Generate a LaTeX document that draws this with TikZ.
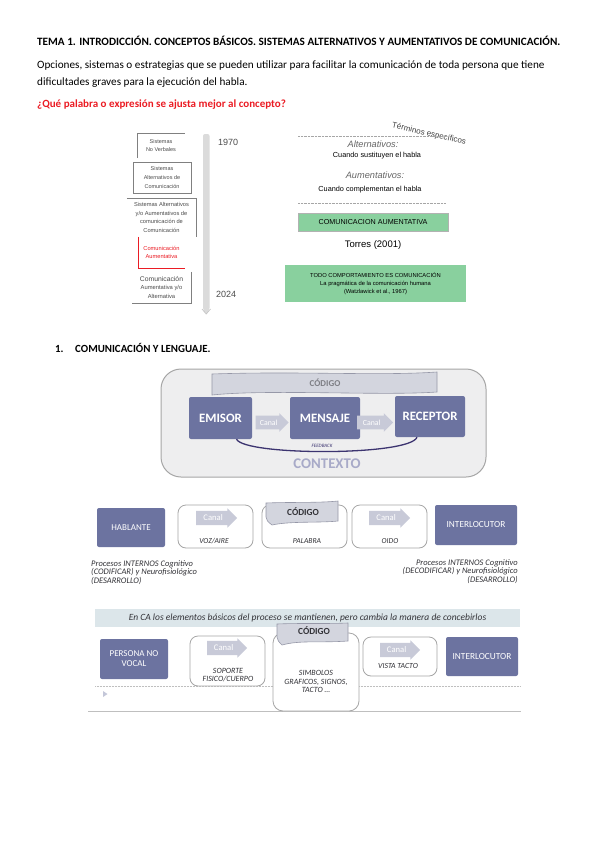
\documentclass[tikz,border=0pt]{standalone}
\usepackage{fontspec}
\setmainfont{Carlito}
\newfontfamily\arialf{Liberation Sans}
\usetikzlibrary{shapes.arrows}
\definecolor{slate}{RGB}{108,115,160}
\definecolor{canalc}{RGB}{200,202,216}
\definecolor{codfill}{RGB}{211,213,222}
\definecolor{codline}{RGB}{150,152,168}
\definecolor{ctxfill}{RGB}{238,238,239}
\definecolor{ctxtext}{RGB}{168,170,200}
\definecolor{fbline}{RGB}{60,52,112}
\definecolor{greenbox}{RGB}{137,208,158}
\definecolor{redq}{RGB}{235,28,36}
\definecolor{bandc}{RGB}{220,230,234}
\definecolor{dtext}{RGB}{50,50,55}
\tikzset{
  bluebox/.style={fill=slate, rounded corners=2pt, text=white, align=center, inner sep=0},
  whitebox/.style={draw=gray!70, line width=0.8pt, fill=white, rounded corners=8pt, inner sep=0},
  canal/.style={single arrow, fill=canalc, text=white, single arrow head extend=2.5pt, inner xsep=1.5pt, inner ysep=4pt, anchor=west},
  tlbox/.style={align=center, inner sep=0, font=\arialf\fontsize{5.5}{8.6}\selectfont, text=gray!60!black},
  lbl/.style={inner sep=0, anchor=base west},
}
\begin{document}
\begin{tikzpicture}[x=1pt,y=-1pt]
\useasboundingbox (0,0) rectangle (599,848);
\fill[white] (0,0) rectangle (599,848);

% ---- header text
\node[lbl, font=\bfseries\fontsize{11.2}{13}\selectfont] (title) at (37,46) {TEMA 1. INTRODICCIÓN. CONCEPTOS BÁSICOS. SISTEMAS ALTERNATIVOS Y AUMENTATIVOS DE COMUNICACIÓN.};
\node[lbl, font=\fontsize{11.2}{13}\selectfont] (p1) at (37,68.5) {Opciones, sistemas o estrategias que se pueden utilizar para facilitar la comunicación de toda persona que tiene};
\node[lbl, font=\fontsize{11.2}{13}\selectfont] (p2) at (37,85.5) {dificultades graves para la ejecución del habla.};
\node[lbl, font=\bfseries\fontsize{11}{13}\selectfont, text=redq] (q) at (37,107.5) {¿Qué palabra o expresión se ajusta mejor al concepto?};

% ---- timeline
\fill[gray!28, rounded corners=2pt] (203,134) -- (209.5,134) -- (209.5,310) -- (206.2,314) -- (203,310) -- cycle;
\draw[gray!45, line width=0.7pt] (202,309) -- (206.2,314) -- (210.5,309);
\node[anchor=base west, inner sep=0, font=\arialf\fontsize{9}{10}\selectfont, text=gray!60!black] (y1) at (218,145.5) {1970};
\node[anchor=base west, inner sep=0, font=\arialf\fontsize{9}{10}\selectfont, text=gray!60!black] (y2) at (216,297.5) {2024};

\node[tlbox, minimum width=48, minimum height=25] (tb1) at (161,145.5) {Sistemas\\No Verbales};
\draw[gray, line width=0.5pt] (tb1.south west) -- (tb1.north west) -- (tb1.north east);
\node[tlbox, draw=gray, line width=0.5pt, minimum width=58, minimum height=31] (tb2) at (162,177.5) {Sistemas\\Alternativos de\\Comunicación};
\node[tlbox, minimum width=69, minimum height=39, font=\arialf\fontsize{5.7}{8.8}\selectfont] (tb3) at (161.5,217.5) {Sistemas Alternativos\\y/o Aumentativos de\\comunicación de\\Comunicación};
\draw[gray, line width=0.5pt] (tb3.north west) -- (tb3.north east) -- (tb3.south east);
\node[tlbox, text=redq, minimum width=47, minimum height=31, font=\arialf\fontsize{5.7}{8.8}\selectfont] (tb4) at (161.5,252.5) {Comunicación\\Aumentativa};
\draw[redq, line width=0.6pt] (tb4.north west) -- (tb4.south west) -- (tb4.south east);
\node[tlbox, minimum width=59, minimum height=31, font=\arialf\fontsize{5.8}{8.8}\selectfont] (tb5) at (161.5,287.5) {{\fontsize{6.8}{8}\selectfont Comunicación}\\Aumentativa y/o\\Alternativa};
\draw[gray, line width=0.5pt] (tb5.north east) -- (tb5.south east) -- (tb5.south west);

% ---- terms
\node[rotate=-13, inner sep=0, font=\arialf\fontsize{8}{9}\selectfont, text=gray!50!black] (term) at (429,134) {Términos específicos};
\coordinate (d1a) at (298,136); \coordinate (d1b) at (446,136);
\draw[gray!70, densely dotted, line width=0.4pt] (d1a) -- (d1b);
\node[inner sep=0, font=\arialf\itshape\fontsize{9.2}{10}\selectfont, text=gray!80!black] (alt) at (373,144.5) {Alternativos:};
\node[inner sep=0, font=\arialf\fontsize{7.3}{8}\selectfont] (alt2) at (377,156) {Cuando sustituyen el habla};
\node[inner sep=0, font=\arialf\itshape\fontsize{9.2}{10}\selectfont, text=gray!80!black] (aum) at (375,175.5) {Aumentativos:};
\node[inner sep=0, font=\arialf\fontsize{7.3}{8}\selectfont] (aum2) at (370,189.5) {Cuando complementan el habla};
\coordinate (d2a) at (298,203); \coordinate (d2b) at (446,203);
\draw[gray!70, densely dotted, line width=0.4pt] (d2a) -- (d2b);
\node[fill=greenbox, draw=gray!60, line width=0.5pt, minimum width=150, minimum height=18, inner sep=0, font=\arialf\fontsize{7.2}{8}\selectfont] (ca) at (373,222) {COMUNICACION AUMENTATIVA};
\node[inner sep=0, font=\arialf\fontsize{9.5}{11}\selectfont] (torres) at (373,245) {Torres (2001)};
\node[fill=greenbox, minimum width=181, minimum height=37, inner sep=0, align=center, font=\arialf\fontsize{5.8}{7.8}\selectfont] (todo) at (375.5,283.5) {TODO COMPORTAMIENTO ES COMUNICACIÓN\\La pragmática de la comunicación humana\\(Watzlawick et al., 1967)};

% ---- section heading
\node[lbl, font=\bfseries\fontsize{10.9}{12}\selectfont] (n1) at (55,352.5) {1.};
\node[lbl, font=\bfseries\fontsize{10.9}{12}\selectfont] (sec) at (75,352.5) {COMUNICACIÓN Y LENGUAJE.};

% ---- diagram 1
\node[draw=gray!70, line width=1pt, fill=ctxfill, rounded corners=20pt, minimum width=325, minimum height=108, inner sep=0] (ctx) at (323.5,423) {};
\fill[codfill, draw=codline, line width=0.6pt] (212,374) .. controls (300,371) and (380,376) .. (437,372) -- (437,392) .. controls (380,396) and (270,389) .. (212,395) -- cycle;
\node[inner sep=0, font=\bfseries\fontsize{9}{10}\selectfont, text=gray!85!slate] (cod1) at (325,383) {CÓDIGO};
\node[bluebox, minimum width=63, minimum height=42, font=\bfseries\fontsize{12.8}{14}\selectfont] (emisor) at (220.5,418) {EMISOR};
\node[bluebox, minimum width=70, minimum height=42, font=\bfseries\fontsize{12.8}{14}\selectfont] (mensaje) at (325,418) {MENSAJE};
\node[bluebox, minimum width=70, minimum height=41, font=\bfseries\fontsize{12.8}{14}\selectfont] (receptor) at (430,416.5) {RECEPTOR};
\node[canal, minimum height=33, font=\fontsize{7.8}{8}\selectfont] (c1) at (255.5,422.5) {Canal};
\node[canal, minimum height=36, font=\fontsize{7.8}{8}\selectfont] (c2) at (357,422.5) {Canal};
\coordinate (fbs) at ([xshift=16pt]emisor.south);
\coordinate (fbe) at ([xshift=-13pt]receptor.south);
\draw[fbline, line width=1.3pt] (fbs) .. controls (245,456) and (410,456) .. (fbe);
\node[inner sep=0, font=\itshape\fontsize{5}{5}\selectfont, text=fbline] (fb) at (322,445.5) {FEEDBACK};
\node[inner sep=0, font=\bfseries\fontsize{14.8}{16}\selectfont, text=ctxtext] (ctxt) at (327,464) {CONTEXTO};

% ---- diagram 2
\node[bluebox, minimum width=68, minimum height=39, font=\fontsize{9}{10}\selectfont] (habl) at (131,527.5) {HABLANTE};
\node[whitebox, minimum width=75, minimum height=43] (w1) at (215.5,526.5) {};
\node[canal, minimum height=41, font=\fontsize{8.6}{9}\selectfont] (c3) at (196,518) {Canal};
\node[inner sep=0, font=\itshape\fontsize{7.6}{8}\selectfont, text=dtext] (voz) at (214,541) {VOZ/AIRE};
\node[whitebox, minimum width=85, minimum height=43] (w2) at (304.5,526.5) {};
\fill[codfill, draw=codline, line width=0.6pt] (266,503) .. controls (290,502) and (320,503) .. (338,501) -- (338,521) .. controls (320,523) and (290,521) .. (272,525) .. controls (268,522) and (266,520) .. (266,517) -- cycle;
\node[inner sep=0, font=\bfseries\fontsize{9.3}{10}\selectfont, text=dtext] (cod2) at (303,512) {CÓDIGO};
\node[inner sep=0, font=\itshape\fontsize{7.6}{8}\selectfont, text=dtext] (pal) at (307,541) {PALABRA};
\node[whitebox, minimum width=75, minimum height=43] (w3) at (389.5,526.5) {};
\node[canal, minimum height=41, font=\fontsize{8.6}{9}\selectfont] (c4) at (369,518) {Canal};
\node[inner sep=0, font=\itshape\fontsize{7.6}{8}\selectfont, text=dtext] (oido) at (390,541) {OIDO};
\node[bluebox, minimum width=82, minimum height=40, font=\fontsize{9.3}{10}\selectfont] (int1) at (476,525) {INTERLOCUTOR};
\node[anchor=north west, inner sep=0, align=left, font=\itshape\fontsize{8.5}{8.6}\selectfont, text=dtext] (pl) at (91,560) {Procesos INTERNOS Cognitivo\\(CODIFICAR) y Neurofisiológico\\(DESARROLLO)};
\node[anchor=north east, inner sep=0, align=right, font=\itshape\fontsize{8.5}{8.6}\selectfont, text=dtext] (pr) at (518,559) {Procesos INTERNOS Cognitivo\\(DECODIFICAR) y Neurofisiológico\\(DESARROLLO)};

% ---- diagram 3
\node[fill=bandc, minimum width=425, minimum height=18, inner sep=0, font=\itshape\fontsize{9.5}{10}\selectfont, text=dtext] (band) at (307.5,618) {En CA los elementos básicos del proceso se mantienen, pero cambia la manera de concebirlos};
\coordinate (dl1) at (95,686); \coordinate (dl2) at (520,686);
\draw[gray!50, densely dotted, line width=0.5pt] (dl1) -- (dl2);
\coordinate (tri) at (105,694);
\fill[slate!40] ([xshift=-2pt,yshift=-3pt]tri) -- ([xshift=2.5pt]tri) -- ([xshift=-2pt,yshift=3pt]tri) -- cycle;
\coordinate (bl1) at (88,711.5); \coordinate (bl2) at (521,711.5);
\draw[gray!50, line width=0.8pt] (bl1) -- (bl2);
\node[bluebox, minimum width=68, minimum height=40, font=\fontsize{9}{10}\selectfont] (pnv) at (134,659) {PERSONA NO\\VOCAL};
\node[whitebox, minimum width=75, minimum height=50] (w4) at (227.5,661) {};
\node[canal, minimum height=40, font=\fontsize{8.6}{9}\selectfont] (c5) at (207,648) {Canal};
\node[inner sep=0, align=center, font=\itshape\fontsize{8}{8.8}\selectfont, text=dtext] (sop) at (228,675) {SOPORTE\\FISICO/CUERPO};
\node[whitebox, minimum width=86, minimum height=78, rounded corners=10pt] (w5) at (316,672) {};
\fill[codfill, draw=codline, line width=0.6pt] (277,624) .. controls (300,623) and (325,624) .. (348,623) -- (348,641) .. controls (320,643) and (300,640) .. (282,645) .. controls (279,642) and (277,640) .. (277,637) -- cycle;
\node[inner sep=0, font=\bfseries\fontsize{9.3}{10}\selectfont, text=dtext] (cod3) at (314,631) {CÓDIGO};
\node[inner sep=0, align=center, font=\itshape\fontsize{8}{8.4}\selectfont, text=dtext] (sim) at (316,681.5) {SIMBOLOS\\GRAFICOS, SIGNOS,\\TACTO …};
\node[whitebox, minimum width=74, minimum height=39] (w6) at (400,656.5) {};
\node[canal, minimum height=40, font=\fontsize{8.6}{9}\selectfont] (c6) at (380,650) {Canal};
\node[inner sep=0, font=\itshape\fontsize{7.8}{8}\selectfont, text=dtext] (vis) at (398,665.5) {VISTA TACTO};
\node[bluebox, minimum width=72, minimum height=39, font=\fontsize{9.3}{10}\selectfont] (int2) at (482,656.5) {INTERLOCUTOR};
\end{tikzpicture}
\end{document}
